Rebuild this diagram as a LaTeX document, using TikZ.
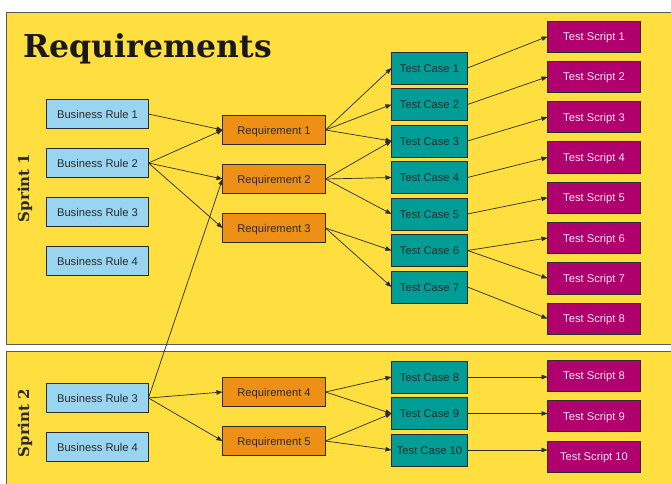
\documentclass[tikz,border=0pt]{standalone}
\usepackage{fontspec}
\setmainfont{Liberation Sans}
\newfontfamily\slabfont{DejaVu Serif}
\usepackage{xcolor}
\usetikzlibrary{positioning,arrows.meta}
\definecolor{panel}{HTML}{FEDF3F}
\definecolor{rulebg}{HTML}{99D5F0}
\definecolor{reqbg}{HTML}{EE9016}
\definecolor{casebg}{HTML}{009D96}
\definecolor{scriptbg}{HTML}{B0006E}
\definecolor{ink}{HTML}{2B2B2B}
\definecolor{frame}{HTML}{5A5A55}

\begin{document}
\begin{tikzpicture}[
      x=1pt,y=-1pt,
      font=\fontsize{11.2}{13}\selectfont,
      box/.style={draw=ink,line width=0.8pt,inner sep=0pt,outer sep=0pt,text=ink,text height=8pt,text depth=0pt},
      rulebox/.style={box,fill=rulebg,minimum width=102pt,minimum height=29.2pt},
      reqbox/.style={box,fill=reqbg,minimum width=103pt,minimum height=29.2pt},
      casebox/.style={box,fill=casebg,minimum width=76pt,minimum height=32.2pt},
      scriptbox/.style={box,fill=scriptbg,text=white!90!scriptbg,minimum width=93pt,minimum height=31.2pt},
      sprint/.style={rotate=90,text=ink,font=\slabfont\bfseries\fontsize{15}{16}\selectfont},
      arr/.style={-{Triangle[length=6pt,width=4.5pt]},ink,line width=0.7pt}
    ]
      \clip (0,0) rectangle (671,483);
      \fill[white] (0,0) rectangle (671,483);
      % the two sprint panels
      \draw[fill=panel,draw=frame,line width=1pt] (6,12) rectangle (690,344);
      \draw[fill=panel,draw=frame,line width=1pt] (6,351) rectangle (690,500);

      \node[anchor=base west,text=black!90,font=\slabfont\bfseries\fontsize{31.5}{34}\selectfont] (title) at (20,57) {Requirements};
      \node[sprint] (sprint1) at (25,188) {Sprint 1};
      \node[sprint] (sprint2) at (25,423) {Sprint 2};

      % sprint 1
      \node[rulebox] (br1) at (97.5,114) {Business Rule 1};
      \node[rulebox,below=19.8pt of br1] (br2) {Business Rule 2};
      \node[rulebox,below=19.8pt of br2] (br3) {Business Rule 3};
      \node[rulebox,below=19.8pt of br3] (br4) {Business Rule 4};

      \node[reqbox] (req1) at (274,130) {Requirement 1};
      \node[reqbox,below=19.8pt of req1] (req2) {Requirement 2};
      \node[reqbox,below=19.8pt of req2] (req3) {Requirement 3};

      \node[casebox] (tc1) at (429.5,68) {Test Case 1};
      \node[casebox,below=4.3pt of tc1] (tc2) {Test Case 2};
      \node[casebox,below=4.3pt of tc2] (tc3) {Test Case 3};
      \node[casebox,below=4.3pt of tc3] (tc4) {Test Case 4};
      \node[casebox,below=4.3pt of tc4] (tc5) {Test Case 5};
      \node[casebox,below=4.3pt of tc5] (tc6) {Test Case 6};
      \node[casebox,below=4.3pt of tc6] (tc7) {Test Case 7};

      \node[scriptbox] (ts1) at (594,36.5) {Test Script 1};
      \node[scriptbox,below=9.1pt of ts1] (ts2) {Test Script 2};
      \node[scriptbox,below=9.1pt of ts2] (ts3) {Test Script 3};
      \node[scriptbox,below=9.1pt of ts3] (ts4) {Test Script 4};
      \node[scriptbox,below=9.1pt of ts4] (ts5) {Test Script 5};
      \node[scriptbox,below=9.1pt of ts5] (ts6) {Test Script 6};
      \node[scriptbox,below=9.1pt of ts6] (ts7) {Test Script 7};
      \node[scriptbox,below=9.1pt of ts7] (ts8) {Test Script 8};

      % sprint 2
      \node[rulebox] (br3b) at (97.5,398) {Business Rule 3};
      \node[rulebox,below=19.8pt of br3b] (br4b) {Business Rule 4};

      \node[reqbox] (req4) at (274,392) {Requirement 4};
      \node[reqbox,below=19.8pt of req4] (req5) {Requirement 5};

      \node[casebox] (tc8) at (429.5,377) {Test Case 8};
      \node[casebox,below=4.3pt of tc8] (tc9) {Test Case 9};
      \node[casebox,below=4.3pt of tc9] (tc10) {Test Case 10};

      \node[scriptbox] (ts8b) at (594,375.5) {Test Script 8};
      \node[scriptbox,below=9.3pt of ts8b] (ts9) {Test Script 9};
      \node[scriptbox,below=9.3pt of ts9] (ts10) {Test Script 10};

      % rules -> requirements
      \draw[arr] (br1.east) -- (req1.west);
      \draw[arr] (br2.east) -- (req1.west);
      \draw[arr] (br2.east) -- (req2.west);
      \draw[arr] (br2.east) -- (req3.west);
      \draw[arr] (br3b.east) -- (req2.west);
      \draw[arr] (br3b.east) -- (req4.west);
      \draw[arr] (br3b.east) -- (req5.west);

      % requirements -> test cases
      \draw[arr] (req1.east) -- (tc1.west);
      \draw[arr] (req1.east) -- (tc2.west);
      \draw[arr] (req1.east) -- (tc3.west);
      \draw[arr] (req2.east) -- (tc3.west);
      \draw[arr] (req2.east) -- (tc4.west);
      \draw[arr] (req2.east) -- (tc5.west);
      \draw[arr] (req3.east) -- (tc6.west);
      \draw[arr] (req3.east) -- (tc7.west);
      \draw[arr] (req4.east) -- (tc8.west);
      \draw[arr] (req4.east) -- (tc9.west);
      \draw[arr] (req5.east) -- (tc9.west);
      \draw[arr] (req5.east) -- (tc10.west);

      % test cases -> test scripts
      \draw[arr] (tc1.east) -- (ts1.west);
      \draw[arr] (tc2.east) -- (ts2.west);
      \draw[arr] (tc3.east) -- (ts3.west);
      \draw[arr] (tc4.east) -- (ts4.west);
      \draw[arr] (tc5.east) -- (ts5.west);
      \draw[arr] (tc6.east) -- (ts6.west);
      \draw[arr] (tc6.east) -- (ts7.west);
      \draw[arr] (tc7.east) -- (ts8.west);
      % sprint 2 links run straight across
      \draw[arr] (tc8.east) -- (tc8.east -| ts8b.west);
      \draw[arr] (tc9.east) -- (tc9.east -| ts9.west);
      \draw[arr] (tc10.east) -- (tc10.east -| ts10.west);
    \end{tikzpicture}
\end{document}
